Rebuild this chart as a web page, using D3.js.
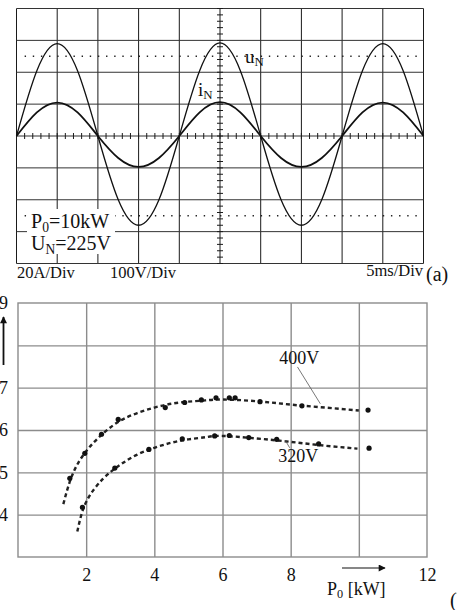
<!DOCTYPE html>
<html>
<head>
<meta charset="utf-8">
<script src="https://d3js.org/d3.v7.min.js"></script>
<style>
  body { margin: 0; background: #fff; }
  text { font-family: "Liberation Serif", "Times New Roman", serif; fill: #111; }
</style>
</head>
<body>
<div id="chart"></div>
<script>
// ---- (a) scope trace, values in divisions, read every 0.5 div
var scopeT = [0, 0.5, 1, 1.5, 2, 2.5, 3, 3.5, 4, 4.5, 5, 5.5, 6, 6.5, 7, 7.5, 8, 8.5, 9, 9.5, 10]
var uN = [0, 2.05, 2.9, 2.05, 0, -2.0, -2.8, -2.0, 0, 2.05, 2.92, 2.05, 0, -2.0, -2.8, -2.0, 0, 2.05, 2.9, 2.05, 0]
var iN = [0, 0.74, 1.05, 0.74, 0, -0.69, -0.97, -0.69, 0, 0.74, 1.06, 0.74, 0, -0.69, -0.97, -0.69, 0, 0.74, 1.05, 0.74, 0]

// ---- (b) efficiency vs output power
var p400 = [1.52, 1.96, 2.45, 2.94, 4.32, 4.89, 5.38, 5.81, 6.2, 6.37, 7.1, 8.33, 10.27]
var e400 = [94.86, 95.45, 95.9, 96.25, 96.53, 96.65, 96.71, 96.76, 96.76, 96.76, 96.67, 96.57, 96.47]
var p320 = [1.89, 2.84, 3.84, 4.82, 5.77, 6.2, 6.77, 7.59, 8.82, 10.3]
var e320 = [94.17, 95.1, 95.54, 95.79, 95.86, 95.87, 95.82, 95.78, 95.67, 95.57]
// fitted (dashed) curves
var fitP400 = [1.33, 1.6, 2.0, 2.5, 3.0, 3.5, 4.0, 4.5, 5, 5.5, 6, 7, 8, 9, 10]
var fitE400 = [94.25, 94.95, 95.5, 95.92, 96.22, 96.4, 96.53, 96.62, 96.67, 96.7, 96.72, 96.68, 96.6, 96.53, 96.46]
var fitP320 = [1.74, 2.0, 2.5, 3.0, 3.5, 4.0, 4.5, 5, 5.5, 6, 7, 8, 9, 9.96]
var fitE320 = [93.6, 94.3, 94.85, 95.18, 95.42, 95.58, 95.7, 95.78, 95.83, 95.86, 95.8, 95.72, 95.63, 95.56]
var xTicks = [2, 4, 6, 8, 12]
var yTicks = [94, 95, 96, 97, 99]

var svg = d3.select("#chart").append("svg")
  .attr("width", 457).attr("height", 610)

var defs = svg.append("defs")
defs.append("marker").attr("id", "head")
  .attr("viewBox", "0 0 10 10").attr("refX", 9).attr("refY", 5)
  .attr("markerWidth", 10).attr("markerHeight", 7).attr("markerUnits", "userSpaceOnUse")
  .attr("orient", "auto")
  .append("path").attr("d", "M0,0L10,5L0,10z").attr("fill", "#111")

// ================= (a) =================
var sx = d3.scaleLinear().domain([0, 10]).range([16.5, 423.5])
var sy = d3.scaleLinear().domain([-4, 4]).range([263.5, 8.5])
var ga = svg.append("g")

// grid
ga.selectAll(".vg").data(d3.range(0, 11)).enter().append("line")
  .attr("x1", d => sx(d)).attr("x2", d => sx(d))
  .attr("y1", sy(4)).attr("y2", sy(-4))
  .attr("stroke", "#1a1a1a").attr("stroke-width", 1)
ga.selectAll(".hg").data(d3.range(-4, 5)).enter().append("line")
  .attr("x1", sx(0)).attr("x2", sx(10))
  .attr("y1", d => sy(d)).attr("y2", d => sy(d))
  .attr("stroke", "#333").attr("stroke-width", 1)

// minor ticks on the centre axes
ga.selectAll(".tx").data(d3.range(0, 10.01, 0.2)).enter().append("line")
  .attr("x1", d => sx(d)).attr("x2", d => sx(d))
  .attr("y1", sy(0) - 3).attr("y2", sy(0) + 3)
  .attr("stroke", "#1a1a1a")
ga.selectAll(".ty").data(d3.range(-4, 4.01, 0.2)).enter().append("line")
  .attr("y1", d => sy(d)).attr("y2", d => sy(d))
  .attr("x1", sx(5) - 3).attr("x2", sx(5) + 3)
  .attr("stroke", "#1a1a1a")

// dotted level lines
ga.selectAll(".dl").data([2.5, -2.5]).enter().append("line")
  .attr("x1", sx(0.2)).attr("x2", sx(9.9))
  .attr("y1", d => sy(d)).attr("y2", d => sy(d))
  .attr("stroke", "#222").attr("stroke-width", 1.4)
  .attr("stroke-dasharray", "1.4,6.74")

// white label box
ga.append("rect").attr("x", 27).attr("y", 209).attr("width", 88).attr("height", 45)
  .attr("fill", "#fff")

var traceLine = d3.line().x(d => sx(d[0])).y(d => sy(d[1])).curve(d3.curveNatural)
ga.append("path").datum(scopeT.map((t, i) => [t, uN[i]]))
  .attr("d", traceLine).attr("fill", "none").attr("stroke", "#111").attr("stroke-width", 1.3)
ga.append("path").datum(scopeT.map((t, i) => [t, iN[i]]))
  .attr("d", traceLine).attr("fill", "none").attr("stroke", "#111").attr("stroke-width", 1.8)

function subText(g, x, y, main, sub, size) {
  var t = g.append("text").attr("x", x).attr("y", y).attr("font-size", size)
  t.append("tspan").text(main[0])
  t.append("tspan").attr("font-size", size * 0.68).attr("dy", size * 0.18).text(sub)
  t.append("tspan").attr("dy", -size * 0.18).text(main[1] || "")
  return t
}
subText(ga, 245, 63, ["u"], "N", 19)
subText(ga, 198, 96, ["i"], "N", 19)
subText(ga, 31, 228, ["P", "=10kW"], "0", 20)
subText(ga, 31, 250, ["U", "=225V"], "N", 20)

ga.append("text").attr("x", 17).attr("y", 278).attr("font-size", 16.5).text("20A/Div")
ga.append("text").attr("x", 110).attr("y", 278).attr("font-size", 16.5).text("100V/Div")
ga.append("text").attr("x", 423).attr("y", 276).attr("font-size", 16.5)
  .attr("text-anchor", "end").text("5ms/Div")
ga.append("text").attr("x", 426).attr("y", 281).attr("font-size", 20).text("(a)")

// ================= (b) =================
var x = d3.scaleLinear().domain([0, 12]).range([18, 427])
var y = d3.scaleLinear().domain([93, 99]).range([557, 303])
var gb = svg.append("g")

gb.append("g").attr("transform", "translate(0," + y(93) + ")")
  .call(d3.axisBottom(x).tickValues([2, 4, 6, 8, 10]).tickSize(-(y(93) - y(99))).tickFormat(""))
  .call(g => g.select(".domain").remove())
  .call(g => g.selectAll("line").attr("stroke", "#8c8c8c").attr("stroke-width", 1.4))
gb.append("g").attr("transform", "translate(" + x(0) + ",0)")
  .call(d3.axisLeft(y).tickValues([94, 95, 96, 97, 98]).tickSize(-(x(12) - x(0))).tickFormat(""))
  .call(g => g.select(".domain").remove())
  .call(g => g.selectAll("line").attr("stroke", "#8c8c8c").attr("stroke-width", 1.4))
gb.append("rect").attr("x", x(0)).attr("y", y(99))
  .attr("width", x(12) - x(0)).attr("height", y(93) - y(99))
  .attr("fill", "none").attr("stroke", "#8c8c8c").attr("stroke-width", 1.4)

// tick labels
gb.append("g").attr("transform", "translate(0," + (y(93) + 8) + ")")
  .call(d3.axisBottom(x).tickValues(xTicks).tickSize(0).tickFormat(d3.format("d")))
  .call(g => g.select(".domain").remove())
  .call(g => g.selectAll("text").attr("font-size", 18).attr("fill", "#222")
    .attr("font-family", "Liberation Serif, serif"))
gb.append("g").attr("transform", "translate(8,0)")
  .call(d3.axisLeft(y).tickValues(yTicks).tickSize(0).tickPadding(0).tickFormat(d3.format("d")))
  .call(g => g.select(".domain").remove())
  .call(g => g.selectAll("text").attr("font-size", 18).attr("fill", "#222")
    .attr("font-family", "Liberation Serif, serif"))

// fitted dashed curves
var fitLine = d3.line().x(d => x(d[0])).y(d => y(d[1])).curve(d3.curveNatural)
;[[fitP400, fitE400], [fitP320, fitE320]].forEach(function (s) {
  gb.append("path").datum(s[0].map((p, i) => [p, s[1][i]]))
    .attr("d", fitLine).attr("fill", "none")
    .attr("stroke", "#222").attr("stroke-width", 2.4).attr("stroke-dasharray", "4,3")
})

// measured points
;[[p400, e400], [p320, e320]].forEach(function (s) {
  gb.selectAll(null).data(s[0].map((p, i) => [p, s[1][i]])).enter().append("circle")
    .attr("cx", d => x(d[0])).attr("cy", d => y(d[1])).attr("r", 2.6).attr("fill", "#111")
})

// curve labels and leaders
gb.append("text").attr("x", x(8.25)).attr("y", y(97.56)).attr("font-size", 18)
  .attr("text-anchor", "middle").attr("fill", "#222").text("400V")
gb.append("line").attr("x1", x(8.2)).attr("y1", y(97.49)).attr("x2", x(8.87)).attr("y2", y(96.62))
  .attr("stroke", "#555").attr("stroke-width", 0.8)
gb.append("text").attr("x", x(8.22)).attr("y", y(95.24)).attr("font-size", 18)
  .attr("text-anchor", "middle").attr("fill", "#222").text("320V")
gb.append("line").attr("x1", x(7.84)).attr("y1", y(95.76)).attr("x2", x(7.97)).attr("y2", y(95.58))
  .attr("stroke", "#555").attr("stroke-width", 0.8)

// axis arrows and titles
gb.append("line").attr("x1", 342).attr("y1", 568).attr("x2", 385).attr("y2", 568)
  .attr("stroke", "#111").attr("stroke-width", 1.2).attr("marker-end", "url(#head)")
subText(gb, 327, 595, ["P", " [kW]"], "0", 18).attr("fill", "#222")
gb.append("line").attr("x1", 3.5).attr("y1", 365).attr("x2", 3.5).attr("y2", 317)
  .attr("stroke", "#111").attr("stroke-width", 1.8).attr("marker-end", "url(#head)")
gb.append("text").attr("x", 450).attr("y", 607).attr("font-size", 20).text("(b)")
</script>
</body>
</html>
